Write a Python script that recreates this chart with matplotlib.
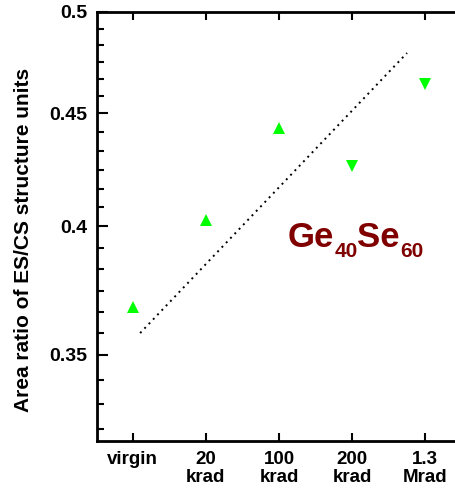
import matplotlib
matplotlib.use("Agg")
import matplotlib.pyplot as plt
import numpy as np

# data
doses = ["virgin", "20\nkrad", "100\nkrad", "200\nkrad", "1.3\nMrad"]
ratio_up = [0.368, 0.4025, 0.443, None, None]
ratio_down = [None, None, None, 0.426, 0.464]
fit_x = [0.1, 3.75]
fit_y = [0.358, 0.479]
ymajor = [0.35, 0.4, 0.45, 0.5]
ymajor_labels = ["0.35", "0.4", "0.45", "0.5"]
formula = [("Ge", False), ("40", True), ("Se", False), ("60", True)]

plt.rcParams['font.family'] = ['Liberation Sans', 'DejaVu Sans']
plt.rcParams['font.weight'] = 'bold'

fig = plt.figure(figsize=(4.56, 4.88), dpi=100)
ax = fig.add_axes([0.2127, 0.0963, 1.0 - 0.2127, 0.976 - 0.0963])

x = np.arange(len(doses))
xu = [xi for xi, v in zip(x, ratio_up) if v is not None]
yu = [v for v in ratio_up if v is not None]
xd = [xi for xi, v in zip(x, ratio_down) if v is not None]
yd = [v for v in ratio_down if v is not None]

ax.plot(fit_x, fit_y, color='black', linestyle=(0, (1, 2.2)), linewidth=1.4)
ax.plot(xu, yu, linestyle='none', marker='^', color='#00ff00', markersize=8.5, markeredgewidth=0)
ax.plot(xd, yd, linestyle='none', marker='v', color='#00ff00', markersize=8.5, markeredgewidth=0)

ax.set_yscale('log')
ax.set_ylim(0.32, 0.5)
ax.set_xlim(-0.49, 4.42)

# minor ticks: six log-even parts per major step
edges = [0.30] + ymajor
minors = []
for a, b in zip(edges[:-1], edges[1:]):
    for k in range(1, 6):
        minors.append(a * (b / a) ** (k / 6))
ax.yaxis.set_major_locator(matplotlib.ticker.FixedLocator(ymajor))
ax.yaxis.set_major_formatter(matplotlib.ticker.FixedFormatter(ymajor_labels))
ax.yaxis.set_minor_locator(matplotlib.ticker.FixedLocator(minors))
ax.yaxis.set_minor_formatter(matplotlib.ticker.NullFormatter())

ax.set_xticks(x)
ax.set_xticklabels(doses, fontsize=13.5, fontweight='bold', linespacing=1.1)
ax.xaxis.set_minor_locator(matplotlib.ticker.NullLocator())

ax.tick_params(axis='y', which='major', direction='in', length=8, width=1.5, labelsize=14, pad=7)
ax.tick_params(axis='y', which='minor', direction='in', length=5, width=1.5)
ax.tick_params(axis='x', which='major', direction='in', length=6, width=1.5, top=True, pad=7)

for s in ['left', 'bottom', 'top']:
    ax.spines[s].set_linewidth(2)
ax.spines['right'].set_visible(False)

fig.text(24 / 456, 1 - 240 / 488, 'Area ratio of ES/CS structure units', rotation=90,
         ha='center', va='center', fontsize=15, fontweight='bold')

# Ge40Se60 label, pieces chained left to right
prev = None
for txt, sub in formula:
    size = 15 if sub else 25
    dy = -7 if sub else 0
    if prev is None:
        prev = ax.text(2.12, 0.3915, txt, color='#800000', fontsize=size, fontweight='bold')
    else:
        prev = ax.annotate(txt, xy=(1, 0.3915), xycoords=(prev, 'data'),
                           xytext=(0, dy), textcoords='offset points',
                           color='#800000', fontsize=size, fontweight='bold')

fig.savefig('out.png', dpi=100)
